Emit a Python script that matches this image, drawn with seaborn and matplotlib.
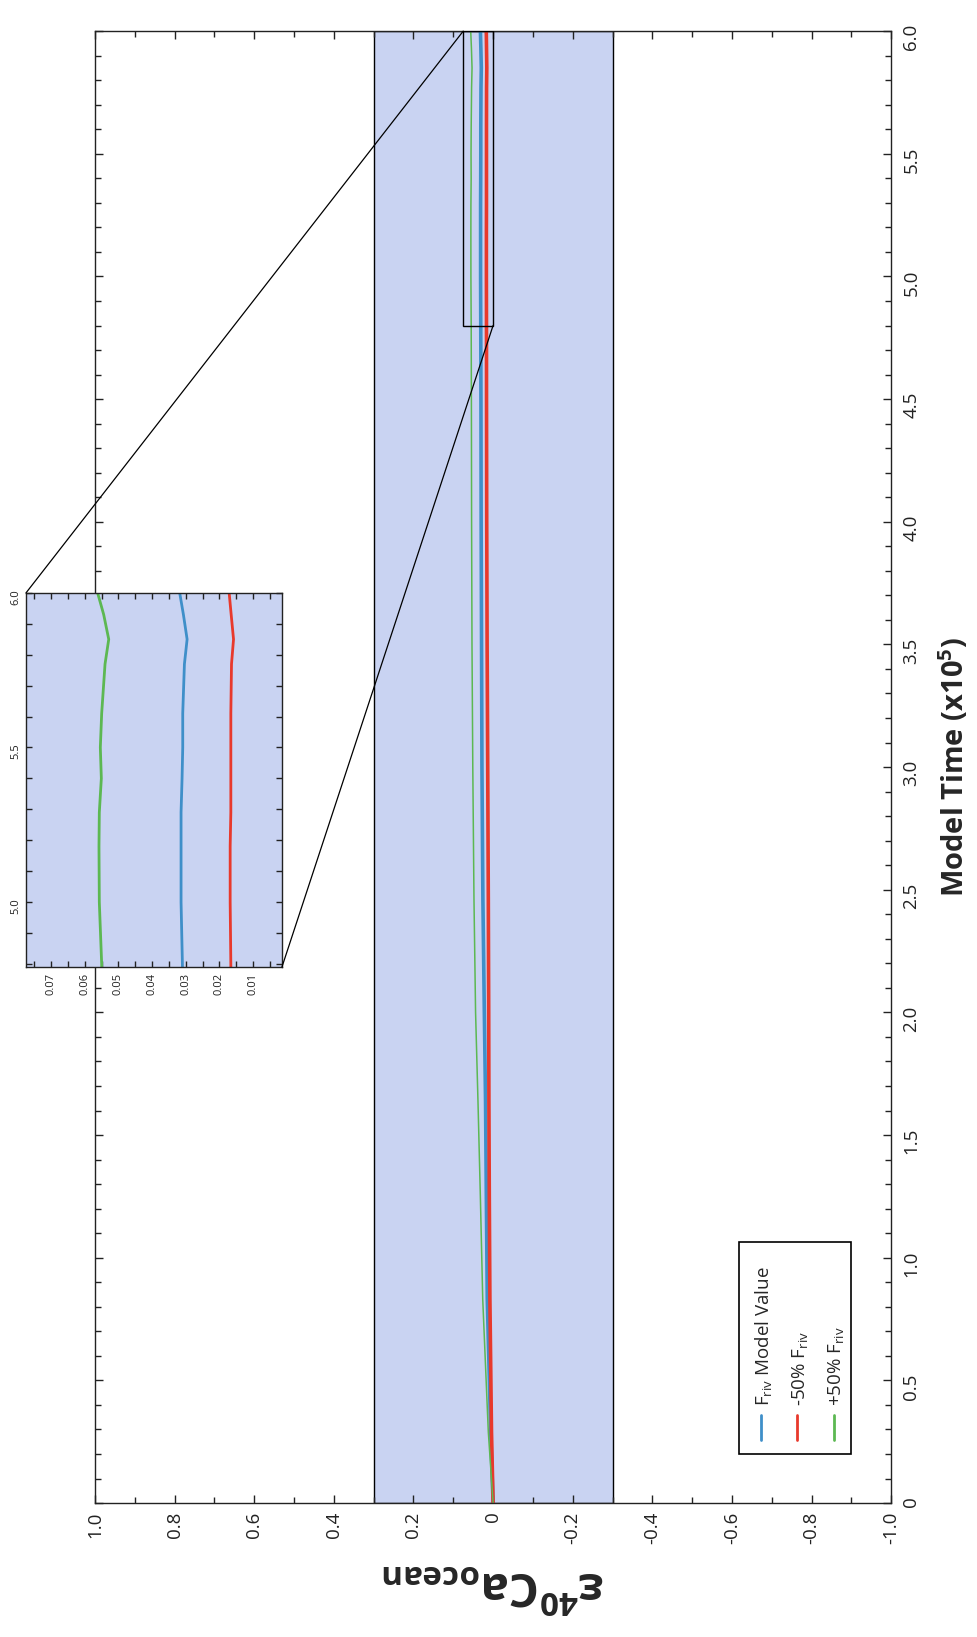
import seaborn as sns
import matplotlib.pyplot as plt
import pandas as pd
import numpy as np
from matplotlib.patches import Rectangle, ConnectionPatch

sns.set_theme(style='ticks')
plt.rcParams['font.family'] = ['Open Sans', 'DejaVu Sans']
plt.rcParams['mathtext.fontset'] = 'custom'
plt.rcParams['mathtext.rm'] = 'Open Sans'
plt.rcParams['mathtext.it'] = 'Open Sans'
plt.rcParams['mathtext.bf'] = 'Open Sans:bold'

# model time (x10^5) and epsilon40Ca of the ocean for each run
time = [0, 0.29, 0.83, 1.25, 1.64, 2.0, 2.46, 3.0, 3.5, 4.0, 4.5, 4.8,
        5.0, 5.18, 5.29, 5.4, 5.5, 5.61, 5.77, 5.85, 5.93, 6.0]
eps_model = [0, 0.006, 0.0146, 0.017, 0.019, 0.022, 0.0256, 0.028, 0.029, 0.030, 0.0305, 0.0310,
             0.0314, 0.0314, 0.0314, 0.0311, 0.0309, 0.0309, 0.0304, 0.0296, 0.0307, 0.0318]
eps_minus50 = [0, 0.004, 0.008, 0.0095, 0.0105, 0.011, 0.012, 0.0135, 0.015, 0.016, 0.0165, 0.0166,
               0.0168, 0.0168, 0.0166, 0.0166, 0.0166, 0.0166, 0.0164, 0.0158, 0.0165, 0.0171]
eps_plus50 = [0, 0.012, 0.026, 0.032, 0.038, 0.044, 0.048, 0.051, 0.053, 0.054, 0.0545, 0.0550,
              0.0557, 0.0558, 0.0557, 0.0551, 0.0554, 0.0550, 0.0540, 0.0529, 0.0544, 0.0562]

band = (-0.3, 0.3)
zoom_eps = (0.0, 0.075)
zoom_time = (4.8, 6.0)

series = [('model', eps_model, '#3f8fc9', r'F$_{\mathregular{riv}}$ Model Value'),
          ('minus', eps_minus50, '#e8392c', r'-50% F$_{\mathregular{riv}}$'),
          ('plus', eps_plus50, '#5cb852', r'+50% F$_{\mathregular{riv}}$')]
main_lw = {'model': 2.6, 'minus': 2.6, 'plus': 1.1}

fig = plt.figure(figsize=(9.77, 16.37), dpi=100)
ax = fig.add_axes([0.0972, 0.0818, 0.815, 0.8992])

ax.axvspan(band[0], band[1], facecolor='#c9d3f2', edgecolor='black', lw=1, zorder=0)
for key, vals, col, lab in series:
    df = pd.DataFrame({'eps': vals, 'time': time})
    sns.lineplot(data=df, x='eps', y='time', orient='y', color=col, lw=main_lw[key], ax=ax)

ax.add_patch(Rectangle((zoom_eps[0], zoom_time[0]), zoom_eps[1] - zoom_eps[0],
                       zoom_time[1] - zoom_time[0], fill=False, edgecolor='black', lw=1, zorder=5))

ax.set_xlim(1.0, -1.0)
ax.set_ylim(0, 6.0)
ax.set_xticks(np.arange(-1.0, 1.01, 0.2))
ax.set_xticklabels(['0' if abs(v) < 1e-9 else f'{v:.1f}' for v in np.arange(-1.0, 1.01, 0.2)])
ax.set_xticks(np.arange(-1.0, 1.01, 0.1), minor=True)
ax.set_yticks(np.arange(0, 6.01, 0.5))
ax.set_yticklabels(['0'] + [f'{v:.1f}' for v in np.arange(0.5, 6.01, 0.5)])
ax.set_yticks(np.arange(0, 6.01, 0.1), minor=True)
ax.yaxis.tick_right()
ax.yaxis.set_label_position('right')
ax.tick_params(which='both', direction='in', top=True, bottom=True, left=True, right=True,
               labelsize=13.5, colors='#222222')
ax.tick_params(which='major', length=6, width=1)
ax.tick_params(which='minor', length=4, width=1)
ax.tick_params(axis='x', labelrotation=90, pad=6)
ax.tick_params(axis='y', labelrotation=90, pad=8, labelleft=False, labelright=True)
for s in ax.spines.values():
    s.set_linewidth(1)
    s.set_color('#222222')

ax.set_ylabel(r'Model Time (x10$^{\mathbf{5}}$)', fontsize=21, fontweight='bold', labelpad=12, rotation=90)
ax.set_xlabel(r'ε$^{\mathbf{40}}$Ca$_{\mathbf{ocean}}$', fontsize=34, fontweight='bold', rotation=180, labelpad=12)

# legend drawn by hand, rotated with the chart
ax.add_patch(Rectangle((0.809, 0.0333), 0.141, 0.144, transform=ax.transAxes, facecolor='white',
                       edgecolor='black', lw=1.2, zorder=6))
for i, (key, vals, col, lab) in enumerate(series):
    xf = 0.836 + i * 0.046
    ax.plot([xf, xf], [0.043, 0.060], transform=ax.transAxes, color=col, lw=2, zorder=7)
    ax.text(xf, 0.066, lab, transform=ax.transAxes, rotation=90, rotation_mode='anchor',
            ha='left', va='center_baseline', fontsize=13.5, zorder=7)

# inset
axi = fig.add_axes([0.0266, 0.4093, 0.262, 0.2285])
axi.set_facecolor('#c9d3f2')
for key, vals, col, lab in series:
    df = pd.DataFrame({'eps': vals, 'time': time})
    sns.lineplot(data=df, x='eps', y='time', orient='y', color=col, lw=2, ax=axi)
axi.set_xlim(0.0775, 0.0014)
axi.set_ylim(4.79, 6.0)
axi.set_xticks([0.01, 0.02, 0.03, 0.04, 0.05, 0.06, 0.07])
axi.set_xticks(np.arange(0.005, 0.0776, 0.005), minor=True)
axi.set_yticks([5.0, 5.5, 6.0])
axi.set_yticks(np.arange(4.8, 6.01, 0.1), minor=True)
axi.tick_params(which='both', direction='in', top=True, bottom=True, left=True, right=True,
                labelsize=8, colors='#222222', length=4, width=1)
axi.tick_params(axis='x', labelrotation=90, pad=4)
axi.tick_params(axis='y', labelrotation=90, pad=3)
axi.set_xlabel('')
axi.set_ylabel('')
for s in axi.spines.values():
    s.set_linewidth(1)
    s.set_color('#222222')

for xa, xb in [((0, 1), (zoom_eps[1], zoom_time[1])), ((1, 0), (zoom_eps[0], zoom_time[0]))]:
    con = ConnectionPatch(xyA=xa, coordsA=axi.transAxes, xyB=xb, coordsB=ax.transData,
                          color='black', lw=0.9)
    fig.add_artist(con)

fig.savefig('out.png', dpi=100)
